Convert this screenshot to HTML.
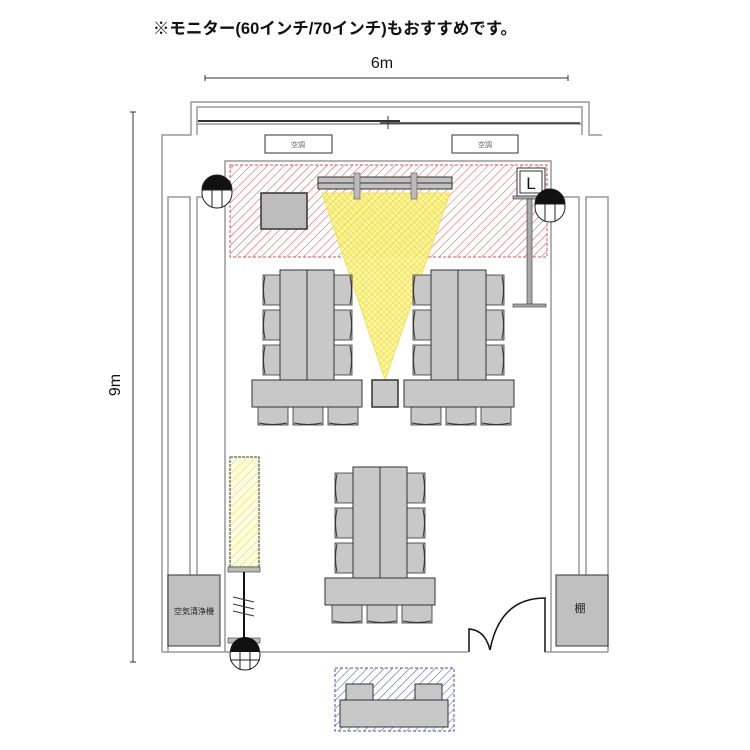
<!DOCTYPE html>
<html><head><meta charset="utf-8"><style>
html,body{margin:0;padding:0;background:#fff;}
svg{display:block;}
text{font-family:"Liberation Sans","Noto Sans CJK JP",sans-serif;}
</style></head><body>
<svg width="750" height="750" viewBox="0 0 750 750" xmlns="http://www.w3.org/2000/svg">
<defs>
<pattern id="red" width="6" height="6" patternUnits="userSpaceOnUse" patternTransform="rotate(45)"><line x1="0" y1="0" x2="0" y2="6" stroke="#e05050" stroke-width="1"/></pattern>
<pattern id="yel" width="6" height="6" patternUnits="userSpaceOnUse" patternTransform="rotate(45)"><line x1="0" y1="0" x2="0" y2="6" stroke="#e8d040" stroke-width="1"/></pattern>
<pattern id="yx" width="6" height="6" patternUnits="userSpaceOnUse"><rect width="6" height="6" fill="#fff8a0"/><path d="M0 0L6 6M6 0L0 6" stroke="#f0e060" stroke-width="0.8"/></pattern>
<pattern id="blu" width="6" height="6" patternUnits="userSpaceOnUse" patternTransform="rotate(45)"><line x1="0" y1="0" x2="0" y2="6" stroke="#5050c0" stroke-width="1"/></pattern>
<g id="chL"><rect x="0" y="0" width="18" height="30" fill="#c8c8c8" stroke="#333" stroke-width="0.8"/><path d="M2 1Q-1 15 2 29" fill="none" stroke="#333"/></g>
<g id="chR"><rect x="0" y="0" width="18" height="30" fill="#c8c8c8" stroke="#333" stroke-width="0.8"/><path d="M16 1Q19 15 16 29" fill="none" stroke="#333"/></g>
<g id="chB"><rect x="0" y="0" width="30" height="18" fill="#c8c8c8" stroke="#333" stroke-width="0.8"/><path d="M1 16Q15 19 29 16" fill="none" stroke="#333"/></g>
</defs>

<text x="335" y="34" font-size="16.5" font-weight="bold" text-anchor="middle" fill="#111">※モニター(60インチ/70インチ)もおすすめです。</text>
<text x="382" y="68" font-size="16" text-anchor="middle" fill="#111">6m</text>
<line x1="205" y1="78" x2="568" y2="78" stroke="#333"/>
<line x1="205" y1="75" x2="205" y2="81" stroke="#333"/><line x1="568" y1="75" x2="568" y2="81" stroke="#333"/>
<text x="120" y="385" font-size="16" text-anchor="middle" fill="#111" transform="rotate(-90 120 385)">9m</text>
<line x1="133" y1="112" x2="133" y2="662" stroke="#333"/>
<line x1="130" y1="112" x2="136" y2="112" stroke="#333"/><line x1="130" y1="662" x2="136" y2="662" stroke="#333"/>

<g fill="none" stroke="#999" stroke-width="1.5">
<path d="M162 652V135H191V102H589V135H602"/>
<path d="M197 107H582V124H197Z"/>
<path d="M225 652V161H551V652"/>
<path d="M168 652V197H190V575M197 575V197H222"/>
<path d="M608 652V197H586V575M579 575V197H555"/>
<path d="M162 652H468M545 652H608"/>
<path d="M197 124V135M582 124V135"/>
</g>
<line x1="198" y1="121" x2="400" y2="121" stroke="#333" stroke-width="2"/>
<line x1="380" y1="123" x2="580" y2="123" stroke="#333" stroke-width="1.5"/>
<line x1="388" y1="116" x2="388" y2="129" stroke="#333"/>

<rect x="265" y="135" width="67" height="18" fill="#fff" stroke="#333"/>
<text x="298" y="147" font-size="7" text-anchor="middle" fill="#666">空調</text>
<rect x="452" y="135" width="66" height="18" fill="#fff" stroke="#333"/>
<text x="485" y="147" font-size="7" text-anchor="middle" fill="#666">空調</text>

<rect x="230" y="165" width="317" height="92" fill="url(#red)" stroke="#e05050" stroke-dasharray="3 2"/>
<polygon points="322,193 450,193 385,380" fill="url(#yx)" stroke="#f0e060"/>
<polygon points="322,193 450,193 425,257 345,257" fill="url(#yel)" opacity="0.9"/>
<rect x="318" y="177" width="134" height="12" fill="#c0c0c0" stroke="#333"/>
<line x1="318" y1="183" x2="452" y2="183" stroke="#333"/>
<rect x="354" y="173" width="6" height="26" fill="#bbb" stroke="#555" stroke-width="0.6"/>
<rect x="411" y="173" width="6" height="26" fill="#bbb" stroke="#555" stroke-width="0.6"/>
<rect x="261" y="193" width="46" height="36" fill="#bdbdbd" stroke="#333" stroke-width="1.5"/>

<rect x="517" y="168" width="28" height="28" fill="#fff" stroke="#333"/>
<rect x="520" y="171" width="22" height="22" fill="none" stroke="#333"/>
<text x="531" y="189" font-size="17" text-anchor="middle" fill="#111">L</text>
<rect x="513" y="196" width="32" height="3" fill="#aaa" stroke="#333" stroke-width="0.6"/>
<rect x="527" y="199" width="5" height="106" fill="#aaa" stroke="#333" stroke-width="0.6"/>
<rect x="513" y="304" width="33" height="3" fill="#aaa" stroke="#333" stroke-width="0.6"/>

<g stroke="#222" fill="#fff">
<circle cx="217" cy="193" r="15"/><path d="M202 190A15 15 0 0 1 232 190Z" fill="#111"/>
<line x1="212" y1="190" x2="212" y2="207"/><line x1="222" y1="190" x2="222" y2="207"/>
<circle cx="550" cy="207" r="15" fill="#fff"/><path d="M535 204A15 15 0 0 1 565 204Z" fill="#111"/>
<line x1="545" y1="204" x2="545" y2="221"/><line x1="555" y1="204" x2="555" y2="221"/>
</g>

<g fill="#c8c8c8" stroke="#333">
<use href="#chL" x="263" y="275"/><use href="#chL" x="263" y="310"/><use href="#chL" x="263" y="345"/>
<use href="#chR" x="334" y="275"/><use href="#chR" x="334" y="310"/><use href="#chR" x="334" y="345"/>
<rect x="280" y="270" width="27" height="110"/><rect x="307" y="270" width="27" height="110"/>
<use href="#chB" x="258" y="407"/><use href="#chB" x="293" y="407"/><use href="#chB" x="328" y="407"/>
<rect x="252" y="380" width="110" height="27"/>
<rect x="372" y="380" width="26" height="27" stroke-width="1.5"/>
<use href="#chL" x="413" y="275"/><use href="#chL" x="413" y="310"/><use href="#chL" x="413" y="345"/>
<use href="#chR" x="486" y="275"/><use href="#chR" x="486" y="310"/><use href="#chR" x="486" y="345"/>
<rect x="431" y="270" width="27" height="110"/><rect x="458" y="270" width="28" height="110"/>
<use href="#chB" x="411" y="407"/><use href="#chB" x="446" y="407"/><use href="#chB" x="481" y="407"/>
<rect x="404" y="380" width="110" height="27"/>
<use href="#chL" x="335" y="473"/><use href="#chL" x="335" y="508"/><use href="#chL" x="335" y="543"/>
<use href="#chR" x="407" y="473"/><use href="#chR" x="407" y="508"/><use href="#chR" x="407" y="543"/>
<rect x="353" y="467" width="27" height="111"/><rect x="380" y="467" width="27" height="111"/>
<use href="#chB" x="332" y="605"/><use href="#chB" x="367" y="605"/><use href="#chB" x="402" y="605"/>
<rect x="325" y="578" width="110" height="27"/>
</g>

<rect x="230" y="457" width="29" height="110" fill="#fffde0" stroke="#333" stroke-dasharray="3 1"/>
<rect x="230" y="457" width="29" height="110" fill="url(#yel)"/>
<rect x="228" y="567" width="32" height="5" fill="#bbb" stroke="#333" stroke-width="0.6"/>
<line x1="244" y1="572" x2="244" y2="640" stroke="#111" stroke-width="2"/>
<path d="M233 597L254 602M233 604L254 609M233 611L254 616" stroke="#333"/>
<rect x="228" y="638" width="32" height="5" fill="#bbb" stroke="#333" stroke-width="0.6"/>
<circle cx="245" cy="655" r="15" fill="#fff" stroke="#222"/>
<path d="M230 652A15 15 0 0 1 260 652Z" fill="#111"/>
<path d="M240 652V670M250 652V670M230 660H260" stroke="#222"/>

<rect x="168" y="575" width="52" height="71" fill="#c0c0c0" stroke="#333"/>
<text x="194" y="614" font-size="8" text-anchor="middle" fill="#222">空気清浄機</text>
<rect x="556" y="575" width="52" height="71" fill="#c0c0c0" stroke="#333"/>
<text x="580" y="612" font-size="11" text-anchor="middle" fill="#222">棚</text>

<path d="M469 652V629Q485 630 490 650" fill="none" stroke="#111" stroke-width="1.5"/>
<path d="M545 652V598Q500 598 490 650" fill="none" stroke="#111" stroke-width="1.5"/>

<rect x="335" y="668" width="119" height="63" fill="url(#blu)" stroke="#5050c0" stroke-dasharray="3 2"/>
<rect x="346" y="684" width="27" height="17" fill="#c8c8c8" stroke="#333"/>
<rect x="415" y="684" width="27" height="17" fill="#c8c8c8" stroke="#333"/>
<rect x="340" y="700" width="108" height="27" fill="#c8c8c8" stroke="#333"/>
</svg>
</body></html>
